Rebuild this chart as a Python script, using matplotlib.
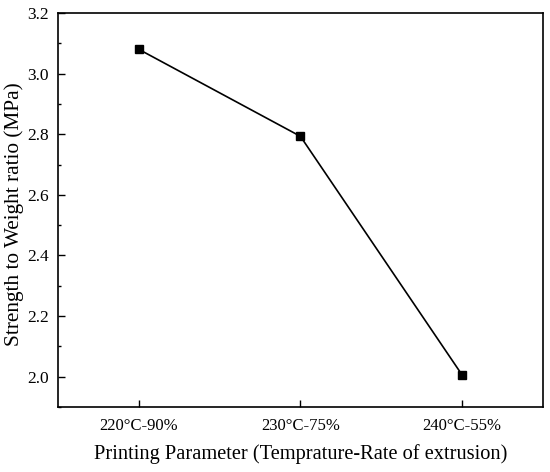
import matplotlib
matplotlib.use('Agg')
import matplotlib.pyplot as plt
from matplotlib.ticker import MultipleLocator

params = ['220\u00b0C-90%', '230\u00b0C-75%', '240\u00b0C-55%']
ratio = [3.08, 2.793, 2.006]

plt.rcParams['font.family'] = ['Liberation Serif', 'DejaVu Serif']

fig = plt.figure(figsize=(5.5, 4.72), dpi=100)
ax = fig.add_axes([0.1055, 0.1377, 0.8815, 0.8348])

x = list(range(len(params)))
ax.plot(x, ratio, 'k-', linewidth=1.2, marker='s', markersize=6)

ax.set_xlim(-0.5, 2.5)
ax.set_ylim(1.9, 3.2)
ax.set_xticks(x)
ax.set_xticklabels(params)
ax.yaxis.set_major_locator(MultipleLocator(0.2))
ax.yaxis.set_minor_locator(MultipleLocator(0.1))
ax.yaxis.set_major_formatter(plt.FuncFormatter(lambda v, p: '{0:.1f}'.format(v)))

ax.tick_params(axis='y', which='major', direction='in', length=5, width=1, labelsize=12.5, pad=6.5)
ax.tick_params(axis='y', which='minor', direction='in', length=2.5, width=1)
ax.tick_params(axis='x', which='major', direction='in', length=5, width=1, labelsize=12, pad=8)
for s in ax.spines.values():
    s.set_linewidth(1.2)

ax.set_xlabel('Printing Parameter (Temprature-Rate of extrusion)', fontsize=14.7, labelpad=7)
ax.set_ylabel('Strength to Weight ratio (MPa)', fontsize=15.3)
ax.yaxis.set_label_coords(-0.07, 0.49)

plt.savefig('out.png', dpi=100)
